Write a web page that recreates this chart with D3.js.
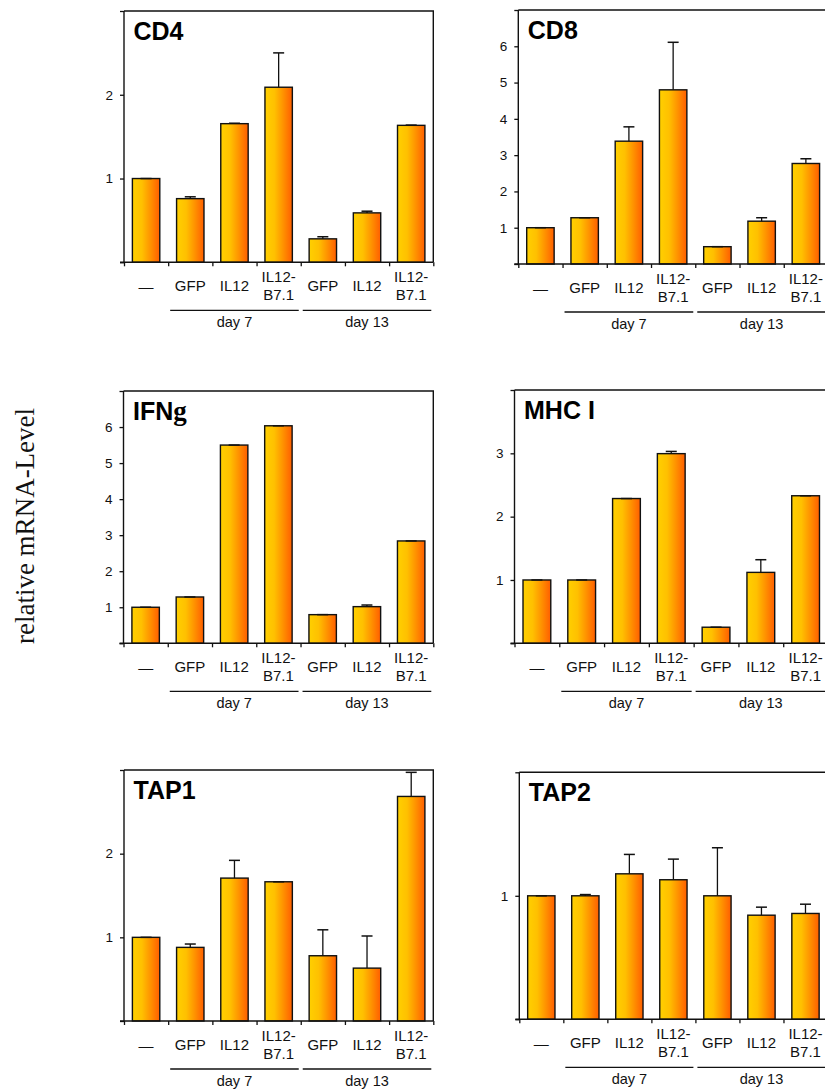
<!DOCTYPE html>
<html>
<head>
<meta charset="utf-8">
<script src="https://cdn.jsdelivr.net/npm/d3@7/dist/d3.min.js"></script>
<style>
  html, body { margin: 0; padding: 0; background: #fff; }
  svg { display: block; }
</style>
</head>
<body>
<svg id="chart" width="825" height="1090"></svg>
<script>
// Conditions on the x axis (same for every panel)
const categories = ["—", "GFP", "IL12", "IL12-B7.1", "GFP", "IL12", "IL12-B7.1"];
// Time-point groups and the category indices they span
const groupLabels = ["day 7", "day 13"];
const groupSpans = [[1, 3], [4, 6]];

// Gene panels
const panelNames = ["CD4", "CD8", "IFNg", "MHC I", "TAP1", "TAP2"];
const yMaxima = [3, 7, 7, 4, 3, 2];

// Relative mRNA levels (mean) per panel
const cd4Values  = [1.00, 0.76, 1.655, 2.09, 0.28, 0.59, 1.635];
const cd8Values  = [1.00, 1.275, 3.385, 4.80, 0.477, 1.18, 2.77];
const ifngValues = [1.00, 1.285, 5.50, 6.035, 0.795, 1.017, 2.84];
const mhcValues  = [1.00, 1.00, 2.286, 2.995, 0.254, 1.12, 2.33];
const tap1Values = [1.00, 0.88, 1.708, 1.664, 0.78, 0.632, 2.684];
const tap2Values = [1.00, 1.00, 1.178, 1.13, 1.00, 0.843, 0.857];

// Upper error (SD) per panel
const cd4Errors  = [0, 0.022, 0.005, 0.41, 0.025, 0.02, 0.003];
const cd8Errors  = [0, 0, 0.395, 1.31, 0, 0.095, 0.13];
const ifngErrors = [0, 0, 0, 0, 0, 0.045, 0];
const mhcErrors  = [0, 0, 0, 0.035, 0, 0.20, 0];
const tap1Errors = [0, 0.04, 0.212, 0, 0.31, 0.384, 0.288];
const tap2Errors = [0, 0.01, 0.157, 0.167, 0.389, 0.065, 0.075];

const panelValues = [cd4Values, cd8Values, ifngValues, mhcValues, tap1Values, tap2Values];
const panelErrors = [cd4Errors, cd8Errors, ifngErrors, mhcErrors, tap1Errors, tap2Errors];

// Plot-area rectangles for the 3x2 grid
const boxes = [
  {x0: 124,   x1: 433.3, y0: 11,    y1: 262.3},
  {x0: 518.3, x1: 828,   y0: 10,    y1: 264},
  {x0: 123.5, x1: 433.3, y0: 391,   y1: 643.3},
  {x0: 514.5, x1: 828,   y0: 390,   y1: 643.3},
  {x0: 124,   x1: 433.3, y0: 770,   y1: 1021},
  {x0: 519.3, x1: 827.5, y0: 772.3, y1: 1019.3}
];

const svg = d3.select("#chart");
const sans = "'Liberation Sans', Arial, sans-serif";
const serif = "'Liberation Serif', 'Times New Roman', serif";

// Yellow-to-orange bar fill
const defs = svg.append("defs");
const grad = defs.append("linearGradient").attr("id", "barFill")
  .attr("x1", "0%").attr("x2", "100%").attr("y1", "0%").attr("y2", "0%");
[["0%", "#FFD000"], ["35%", "#FFC000"], ["65%", "#FF9400"], ["100%", "#FF5E00"]]
  .forEach(([o, c]) => grad.append("stop").attr("offset", o).attr("stop-color", c));

panelNames.forEach((name, pi) => {
  const b = boxes[pi];
  const values = panelValues[pi];
  const errors = panelErrors[pi];
  const g = svg.append("g");

  const x = d3.scaleBand().domain(d3.range(categories.length))
    .range([b.x0, b.x1]).paddingInner(0.38).paddingOuter(0.19);
  const step = (b.x1 - b.x0) / categories.length;
  const y = d3.scaleLinear().domain([0, yMaxima[pi]]).range([b.y1, b.y0]);

  // Frame (top and right)
  g.append("path")
    .attr("d", `M${b.x0},${b.y0}H${b.x1}V${b.y1}`)
    .attr("fill", "none").attr("stroke", "#111").attr("stroke-width", 1.4);

  // Bars
  g.selectAll("rect.bar").data(values).join("rect")
    .attr("class", "bar")
    .attr("x", (d, i) => x(i))
    .attr("width", x.bandwidth())
    .attr("y", d => y(d))
    .attr("height", d => y(0) - y(d))
    .attr("fill", "url(#barFill)")
    .attr("stroke", "#111").attr("stroke-width", 1.4);

  // Upper error bars
  const capHalf = 5.5;
  values.forEach((v, i) => {
    const cx = x(i) + x.bandwidth() / 2;
    const top = y(v + errors[i]);
    g.append("line").attr("x1", cx).attr("x2", cx)
      .attr("y1", y(v)).attr("y2", top)
      .attr("stroke", "#111").attr("stroke-width", 1.3);
    g.append("line").attr("x1", cx - capHalf).attr("x2", cx + capHalf)
      .attr("y1", top).attr("y2", top)
      .attr("stroke", "#111").attr("stroke-width", 1.5);
  });

  // Y axis with unlabelled end ticks
  const yTicks = d3.range(0, yMaxima[pi] + 1);
  const yAxis = d3.axisLeft(y).tickValues(yTicks).tickSize(4).tickPadding(7)
    .tickFormat(d => (d === 0 || d === yMaxima[pi]) ? "" : d3.format("d")(d));
  const ya = g.append("g").attr("transform", `translate(${b.x0},0)`).call(yAxis);
  ya.select(".domain").attr("stroke", "#111").attr("stroke-width", 1.4)
    .attr("d", `M0,${b.y0}V${b.y1 + 0.5}`);
  ya.selectAll(".tick line").attr("stroke", "#111").attr("stroke-width", 1.3);
  ya.selectAll(".tick text").attr("font-family", sans).attr("font-size", 13.5).attr("fill", "#111");

  // X axis: ticks at category boundaries
  const xBounds = d3.range(categories.length + 1).map(i => b.x0 + i * step);
  const xb = d3.scaleLinear().domain([0, categories.length]).range([b.x0, b.x1]);
  const xAxis = d3.axisBottom(xb).tickValues(d3.range(categories.length + 1))
    .tickSize(4).tickFormat("");
  const xa = g.append("g").attr("transform", `translate(0,${b.y1})`).call(xAxis);
  xa.select(".domain").attr("stroke", "#111").attr("stroke-width", 1.4)
    .attr("d", `M${b.x0 - 4},0H${b.x1}`);
  xa.selectAll(".tick line").attr("stroke", "#111").attr("stroke-width", 1.3);

  // Category labels
  categories.forEach((c, i) => {
    const cx = xBounds[i] + step / 2;
    const t = g.append("text").attr("font-family", sans).attr("font-size", 15)
      .attr("fill", "#111").attr("text-anchor", "middle");
    if (c.includes("-")) {
      const [a, rest] = c.split("-");
      t.append("tspan").attr("x", cx).attr("y", b.y1 + 19.5).text(a + "-");
      t.append("tspan").attr("x", cx).attr("y", b.y1 + 37.5).text(rest);
    } else if (c === "—") {
      t.attr("x", cx).attr("y", b.y1 + 30).text(c);
    } else {
      t.attr("x", cx).attr("y", b.y1 + 29).text(c);
    }
  });

  // Group brackets
  groupLabels.forEach((lab, gi) => {
    const [s, e] = groupSpans[gi];
    const gx0 = xBounds[s] + 2, gx1 = xBounds[e + 1] - 2;
    g.append("line").attr("x1", gx0).attr("x2", Math.min(gx1, 826))
      .attr("y1", b.y1 + 48).attr("y2", b.y1 + 48)
      .attr("stroke", "#111").attr("stroke-width", 1.3);
    g.append("text").attr("x", (gx0 + gx1) / 2).attr("y", b.y1 + 65)
      .attr("text-anchor", "middle").attr("font-family", sans).attr("font-size", 14.5)
      .attr("fill", "#111").text(lab);
  });

  // Panel title
  const title = g.append("text").attr("x", b.x0 + 9.5).attr("y", b.y0 + 28.5)
    .attr("font-family", sans).attr("font-weight", "bold").attr("font-size", 25)
    .attr("fill", "#000");
  if (name === "IFNg") {
    title.append("tspan").text("IFN");
    title.append("tspan").attr("font-family", serif).attr("font-size", 27).text("g");
  } else {
    title.text(name);
  }
});

// Shared y-axis title
svg.append("text")
  .attr("transform", "translate(34,526) rotate(-90)")
  .attr("text-anchor", "middle")
  .attr("font-family", serif).attr("font-size", 27).attr("fill", "#111")
  .text("relative mRNA-Level");
</script>
</body>
</html>
